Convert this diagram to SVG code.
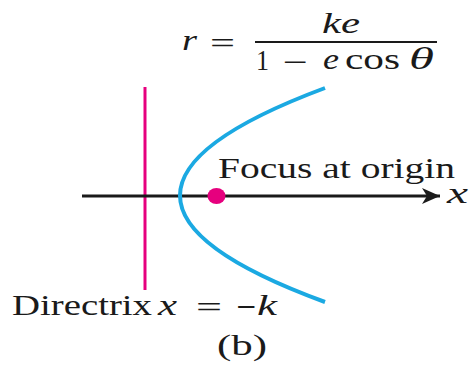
<svg xmlns="http://www.w3.org/2000/svg" width="469" height="366" viewBox="0 0 469 366">
<style>
text{font-family:"Liberation Serif","Times New Roman",serif;fill:#1a1a1a;font-size:30px}
.i{font-style:italic}
</style>
<defs>
<marker id="arr" markerWidth="20" markerHeight="18" refX="18" refY="9" orient="auto" markerUnits="userSpaceOnUse">
<path d="M18,9 L0,1 L5,9 L0,17 Z" fill="#1a1a1a"/>
</marker>
</defs>
<rect width="469" height="366" fill="#fff"/>
<g id="formula">
<text class="i" x="182" y="50" textLength="15" lengthAdjust="spacingAndGlyphs">r</text>
<text x="210" y="53" textLength="25" lengthAdjust="spacingAndGlyphs">=</text>
<line x1="255" y1="42" x2="437" y2="42" stroke="#1a1a1a" stroke-width="2"/>
<text class="i" x="322" y="33" textLength="38" lengthAdjust="spacingAndGlyphs">ke</text>
<text x="256" y="70" textLength="13" lengthAdjust="spacingAndGlyphs">1</text>
<text x="283" y="72" textLength="25" lengthAdjust="spacingAndGlyphs">−</text>
<text class="i" x="323" y="69" textLength="16" lengthAdjust="spacingAndGlyphs">e</text>
<text x="345" y="69" textLength="55" lengthAdjust="spacingAndGlyphs">cos</text>
<text class="i" x="409" y="69" style="font-size:31px" textLength="25" lengthAdjust="spacingAndGlyphs">θ</text>
</g>
<g id="directrix">
<line x1="145" y1="87" x2="145" y2="290" stroke="#e6007e" stroke-width="3"/>
<text x="12" y="315" textLength="140" lengthAdjust="spacingAndGlyphs">Directrix</text>
<text class="i" x="158" y="315" textLength="19" lengthAdjust="spacingAndGlyphs">x</text>
<text x="196" y="317" textLength="26" lengthAdjust="spacingAndGlyphs">=</text>
<text x="236" y="317" textLength="20" lengthAdjust="spacingAndGlyphs" font-weight="bold">−</text>
<text class="i" x="257" y="315" textLength="20" lengthAdjust="spacingAndGlyphs">k</text>
</g>
<g id="connectors">
<line x1="82" y1="196" x2="440" y2="196" stroke="#1a1a1a" stroke-width="3" marker-end="url(#arr)"/>
</g>
<g id="axis-label">
<text class="i" x="447" y="203" textLength="21" lengthAdjust="spacingAndGlyphs">x</text>
</g>
<g id="parabola">
<path d="M325,88 Q35,196 325,302" fill="none" stroke="#1ba9e2" stroke-width="4"/>
</g>
<g id="focus">
<ellipse cx="216.5" cy="196" rx="9" ry="8" fill="#e6007e"/>
<text x="218" y="178" textLength="237" lengthAdjust="spacingAndGlyphs">Focus at origin</text>
</g>
<g id="caption">
<text x="217" y="355" textLength="50" lengthAdjust="spacingAndGlyphs">(b)</text>
</g>
</svg>
